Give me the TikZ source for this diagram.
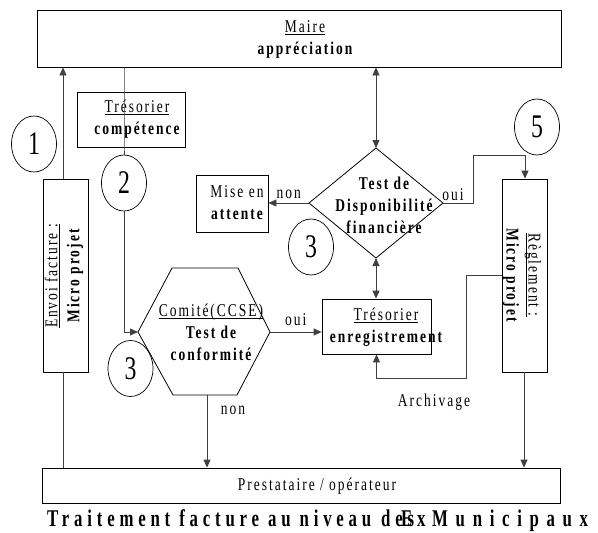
\documentclass[tikz,border=0pt]{standalone}
\usepackage{fontspec}
\setmainfont[FakeStretch=0.75,LetterSpace=11]{Liberation Serif}
\newfontfamily\capfont[FakeStretch=0.7,LetterSpace=20]{Liberation Serif}
\newfontfamily\capwide[FakeStretch=0.7,LetterSpace=32]{Liberation Serif}
\newfontfamily\numfont[FakeStretch=0.72]{Liberation Serif}
\usetikzlibrary{shapes.geometric,arrows.meta}
% thick underline used for the role names
\newcommand{\ulx}[1]{\setbox0\hbox{#1}\rlap{\rule[-2.8pt]{\wd0}{1.3pt}}\box0}
\newcommand{\lbl}{\fontsize{18}{22}\selectfont}
\tikzset{
  box/.style={draw,line width=0.8pt,rectangle,inner sep=0pt,align=center,font=\lbl},
  num/.style={draw,ellipse,line width=0.7pt,inner sep=0pt,
    minimum width=45pt,minimum height=56pt,font=\numfont\fontsize{33}{33}\selectfont},
  link/.style={line width=0.8pt,draw=black!75},
  arr/.style={link,-{Triangle[length=8pt,width=7pt]}},
  darr/.style={link,{Triangle[length=8pt,width=7pt]}-{Triangle[length=8pt,width=7pt]}},
  lab/.style={font=\lbl,inner sep=0pt,align=center},
  captxt/.style={anchor=base west,inner sep=0pt,font=\capfont\fontsize{24}{24}\selectfont\bfseries}
}
\begin{document}
\begin{tikzpicture}[x=1pt,y=-1pt]
\useasboundingbox (0,0) rectangle (598,533);

% actors
\node[box,minimum width=524pt,minimum height=57pt] (maire) at (299,38.5) {};
\node[lab] at (305,39) {\ulx{Maire}\\\bfseries appréciation};
\node[box,minimum width=518pt,minimum height=35pt] (prest) at (301,485.5) {};
\node[lab] at (317,486) {Prestataire / opérateur};

\node[box,minimum width=108pt,minimum height=55pt] (tcomp) at (131,119.5) {};
\node[lab] at (137,119) {\ulx{Trésorier}\\\bfseries compétence};

\node[box,minimum width=45pt,minimum height=193pt] (envoi) at (65.5,275.5) {};
\node[lab,rotate=90] at (64,276) {\ulx{Envoi facture :}\\\bfseries Micro projet};

\node[box,minimum width=45pt,minimum height=193pt] (regl) at (524.5,275.5) {};
\node[lab,rotate=-90] at (522,275) {\ulx{Règlement :}\\\bfseries Micro projet};

\node[box,minimum width=72pt,minimum height=57pt] (mise) at (232,203.5) {};
\node[lab] at (237,203) {Mise en\\\bfseries attente};

\node[box,minimum width=109pt,minimum height=55pt] (tenr) at (376.5,326.5) {};
\node[lab] at (386,327) {\ulx{Trésorier}\\\bfseries enregistrement};

% decision: financial availability
\coordinate (dtop) at (376,148);
\coordinate (dright) at (443,203);
\coordinate (dbot) at (376,258);
\coordinate (dleft) at (309,203);
\draw[line width=0.8pt] (dtop) -- (dright) -- (dbot) -- (dleft) -- cycle;
\node[lab,font=\lbl\bfseries] (dispo) at (384,205) {Test de\\Disponibilité\\financière};

% conformity check
\coordinate (hleft) at (138,332);
\coordinate (hright) at (270,332);
\coordinate (hbot) at (207,395);
\draw[line width=0.8pt] (172,268) -- (238,268) -- (hright) -- (237,395) -- (173,395) -- (hleft) -- cycle;
\node[lab] (conf) at (211,332) {\ulx{Comité(CCSE)}\\\bfseries Test de\\\bfseries conformité};

% step numbers
\node[num] (c1) at (34,144) {1};
\node[num] (c2) at (124,183) {2};
\node[num] (c3a) at (130.5,368.5) {3};
\node[num] (c3b) at (311,247) {3};
\node[num] (c5) at (537,127) {5};

% flows
\draw[arr] (envoi.north -| 63,0) -- (maire.south -| 63,0);
\draw[link] (envoi.south -| 63,0) -- (prest.north -| 63,0);
\draw[link] (maire.south -| c2) -- (tcomp.south -| c2) -- (c2.north);
\draw[arr] (c2.south) -- (c2.south |- hleft) -- (hleft);
\draw[arr] (hright) -- (tenr.west |- hright) node[lab,midway,above=6pt] {oui};
\draw[arr] (hbot) -- (prest.north -| hbot);
\node[lab] at (233,410) {non};
\draw[darr] (maire.south -| dtop) -- (dtop);
\draw[darr] (dbot) -- (tenr.north -| dbot);
\draw[arr] (dleft) -- (mise.east |- dleft) node[lab,midway,above=4pt] {non};
\coordinate (rturn) at (473,155);
\draw[arr] (dright) -- (dright -| rturn) -- (rturn) -- (525,155) -- (regl.north -| 525,0);
\node[lab] at (453,195) {oui};
\coordinate (aturn) at (466,378);
\draw[arr] (regl.west |- 0,275) -- (aturn |- 0,275) -- (aturn) -- (tenr.south |- aturn) -- (tenr.south);
\node[lab] at (434,402) {Archivage};
\draw[arr] (regl.south -| 524,0) -- (prest.north -| 524,0);

% caption (the middle words print on top of each other)
\node[captxt] (cap1) at (47,526) {Traitement facture au niveau};
\node[captxt] (cap2) at (381,526) {des};
\node[captxt] (cap3) at (401,526) {Ex};
\node[captxt,font=\capwide\fontsize{24}{24}\selectfont\bfseries] (cap4) at (432,526) {Municipaux};
\end{tikzpicture}
\end{document}
